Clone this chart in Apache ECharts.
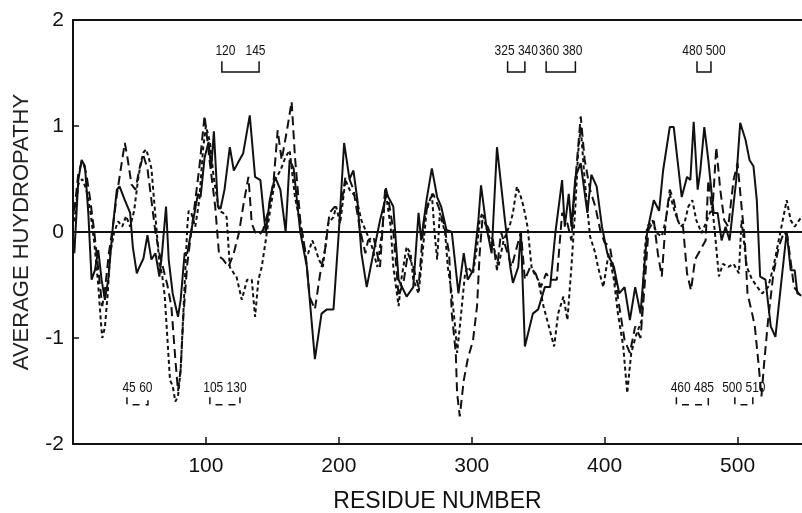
<!DOCTYPE html>
<html>
<head>
<meta charset="utf-8">
<script src="https://cdn.jsdelivr.net/npm/echarts@6/dist/echarts.min.js"></script>
<style>html,body{margin:0;padding:0;background:#fff}#c{width:802px;height:513px}</style>
</head>
<body>
<div id="c"></div>
<script>
// ---- data ----
const xTicks = [100, 200, 300, 400, 500];
const yTicks = [-2, -1, 0, 1, 2];

const solidRes = [1,4,6.5,9,11.5,14,16.5,19,21.5,24,26.5,30,33,35,39,43,45,48,50,53,56,59,62,65,67,70,72,75,79,81,84,86,90,94,96,99,102,104,106,109,111,114,118,121,124,128,133,137,141,145,148,152,156,160,163,166,171,176,182,187,191,196,200,204,208,211,214,217,221,226,231,236,241,245,251,256,260,262,266,270,274,277,281,285,290,294,297,301,305,307,311,315,319,325,329,331,335,337,340,346,350,355,359,363,368,370,373,375,378,382,387,390,394,398,402,407,411,415,419,423,427,432,437,441,444,449,452,458,462,464.5,467,470,472,475,478,482,485,488,491,494,499,502,506,509,512,514.5,517,521,525,528.5,532,537,540,543,545,548];
const solidVal = [-0.2,0.49,0.68,0.62,0.18,-0.45,-0.36,-0.17,-0.45,-0.64,-0.45,0.05,0.4,0.43,0.3,0.18,-0.14,-0.39,-0.33,-0.25,-0.03,-0.26,-0.2,-0.42,-0.2,0.24,-0.26,-0.58,-0.8,-0.64,-0.2,-0.2,0.08,0.36,0.33,0.7,0.85,0.6,0.95,0.24,0.22,0.4,0.8,0.58,0.65,0.74,1.1,0.52,0.49,-0.01,0.3,0.52,0.4,0.0,0.68,0.6,0.0,-0.33,-1.2,-0.77,-0.73,-0.73,0.0,0.84,0.5,0.58,0.3,-0.2,-0.52,-0.2,0.11,0.36,0.24,-0.45,-0.61,-0.52,0.18,-0.08,0.3,0.6,0.33,0.24,0.02,0.0,-0.58,-0.2,-0.45,-0.36,0.11,0.44,0.05,-0.2,0.8,0.11,-0.33,-0.48,-0.33,0.0,-1.08,-0.77,-0.73,-0.52,-0.52,0.0,0.49,0.05,0.36,0.05,0.52,0.65,0.18,0.54,0.43,0.05,-0.2,-0.33,-0.58,-0.52,-0.83,-0.52,-0.77,0.0,0.3,0.2,0.58,0.99,0.99,0.33,0.52,0.49,1.04,0.4,0.58,0.99,0.68,0.18,0.18,-0.08,0.05,-0.08,0.49,1.03,0.87,0.68,0.62,0.3,-0.42,-0.45,-0.89,-0.99,-0.58,0.0,-0.36,-0.36,-0.58,-0.6];

const dashRes = [1,4,7,10,13,16,19,22,24,27,30,33,36,39,41,44,47,50,53,56,59,62,65,68,71,74,77,79,81,83,86,89,92,95,99,103,107,110,113,117,121,125,128,132,134.5,137,140,143,147,151,154,157,161,164.5,167,171,175,178,182,186,190,193,197,201,205,208,211,216,220,222,226,231,235,237,241,245,249,252,256,260,264,268,271,275,279,283,285,288,289,291,294,297,301,304,306,308,312,316,319,322,327,330,334,337,340,344,348,352,356,359,364,368,372,375,378,382,385,389,393,397,400,404,408,411,415,419,423,427,430,433,437,440,443,446,449,452,455,459,462,465,468,472,476,478,481,484,487,490,493,497,500,503,505.5,507.5,511,513,516,518,520,523,527,531,535,537.5,542.5,546,548];
const dashVal = [0.2,0.55,0.68,0.55,0.3,0.0,-0.35,-0.7,-0.55,-0.2,0.05,0.35,0.6,0.84,0.7,0.45,0.4,0.6,0.72,0.6,0.3,0.0,-0.2,-0.35,-0.5,-0.7,-1.2,-1.5,-1.3,-0.8,-0.3,0.0,0.3,0.6,1.1,0.65,0.24,-0.23,-0.26,-0.33,-0.2,0.0,0.24,0.52,0.08,0.0,-0.03,0.02,0.2,0.49,0.96,0.68,0.96,1.23,0.71,0.11,-0.2,-0.61,-0.73,-0.39,-0.14,0.18,0.24,0.18,0.52,0.5,0.4,0.02,-0.2,-0.08,-0.04,-0.33,0.43,0.33,0.02,-0.61,-0.45,-0.2,-0.33,-0.52,0.11,0.3,0.36,0.24,0.08,-0.2,-0.77,-1.14,-1.52,-1.74,-1.4,-1.2,-1.02,-0.7,-0.2,0.11,0.05,-0.08,-0.36,0.0,-0.2,-0.33,-0.14,0.0,-0.45,-0.33,-0.39,-0.52,-0.39,-0.45,-0.45,0.18,0.08,-0.08,0.49,1.09,0.68,0.4,0.24,0.0,-0.1,-0.14,-0.45,-0.7,-1.02,-1.14,-0.89,-1.0,-0.52,0.02,0.11,-0.2,-0.42,0.11,0.4,0.3,0.11,0.05,-0.39,-0.55,-0.26,-0.17,-0.08,0.49,0.18,0.8,0.4,0.11,0.05,0.49,0.65,0.24,-0.08,-0.58,-0.77,-0.89,-1.27,-1.55,-1.24,-0.83,-0.39,-0.14,0.0,-0.04,-0.52,-0.58,-0.6];

const dotRes = [1,4,7,10,13,16,19,21,22,24,26,28,31,34,37,40,43,46,49,51,53,55,57,59,61,63,65,67,69,71,73,75,77,79,81,84,86,87,89,92,95,98,100,103,106,110,113,115.6,118,121,123,127,131,134.5,137,139.5,142,145,148,152,156,160,163,167,171,175,177,180,182,185,188,192,196,198,201,205,208,213,217,221,225,229,233,235,239,241,245,247,251,254,256,260,262,266,270,272,274,276,280,282,285,288,289,291,295,297,301,304,306,308,312,318,320,324,329,331,334,337,339,342,345,347,350,354,358,362,365,369,372,375,378,380,382,385,389,393,395,399,403,407,410,414,417,420,424,428,430,432,436,439,443,446,449,453,457,460,463,466,469,473,477,481,483,486,489,493,497,501,503,507,511,515,518.5,523,527,530,534,537,540,543,548];
const dotVal = [0.1,0.45,0.5,0.4,0.2,-0.1,-0.5,-0.85,-1.0,-0.9,-0.6,-0.2,0.0,0.1,0.05,0.15,0.05,0.2,0.5,0.65,0.75,0.78,0.7,0.6,0.3,0.0,-0.3,-0.4,-0.6,-1.0,-1.4,-1.45,-1.6,-1.55,-1.3,-0.5,0.05,0.2,0.18,0.05,0.3,0.8,1.0,0.85,0.5,0.2,0.18,0.14,-0.33,-0.39,-0.42,-0.64,-0.45,-0.45,-0.8,-0.45,-0.33,-0.08,0.18,0.49,0.58,0.71,0.77,0.33,0.08,-0.2,-0.2,-0.08,-0.14,-0.26,-0.33,0.08,0.14,0.24,0.08,0.49,0.4,0.33,0.11,-0.01,-0.14,-0.33,0.05,0.4,0.05,-0.33,-0.7,-0.45,-0.14,-0.2,-0.45,-0.58,-0.33,0.2,0.36,0.0,-0.26,0.18,-0.01,-0.33,-0.58,-0.96,-1.14,-0.9,-0.39,-0.33,-0.39,-0.14,0.11,0.18,-0.01,-0.2,-0.33,-0.08,0.08,0.18,0.43,0.33,0.24,0.05,-0.33,-0.39,-0.45,-0.7,-0.89,-1.08,-0.77,-0.61,-0.83,-0.33,0.24,0.74,0.99,0.49,-0.04,-0.2,-0.33,-0.52,-0.2,-0.45,-0.77,-1.08,-1.52,-1.14,-0.96,-0.83,-0.2,0.05,0.11,-0.01,-0.04,0.11,0.36,0.18,0.05,0.08,0.24,0.3,0.11,-0.01,0.11,0.24,-0.01,-0.42,-0.3,-0.33,-0.3,-0.39,0.11,-0.33,-0.45,-0.52,-0.58,-0.52,-0.33,-0.14,0.11,0.3,0.11,0.05,0.14];

// segment annotations (residue ranges)
const topBracketStart = [112, 327, 356, 469.5];
const topBracketEnd   = [140, 340, 378, 480];
const topBracketLabel = ['120   145', '325 340', '360 380', '480 500'];
const botBracketStart = [40.6, 103, 454, 498];
const botBracketEnd   = [56.4, 125.6, 478, 511.5];
const botBracketLabel = ['45 60', '105 130', '460 485', '500 510'];

// ---- chart ----
const X_MAX = 548.5;
const FONT = '"Liberation Sans", Arial, sans-serif';
const pair = (xs, ys) => xs.map((x, i) => [x, ys[i]]);

function bracketSeries(starts, ends, labels, armTop, base, labelY, dashed) {
  return {
    type: 'custom',
    silent: true,
    z: 5,
    data: starts.map((s, i) => [s, ends[i]]),
    renderItem: function (params, api) {
      const s = api.value(0), e = api.value(1);
      const lab = labels[params.dataIndex];
      const a = api.coord([s, armTop]), b = api.coord([s, base]);
      const c = api.coord([e, base]), d = api.coord([e, armTop]);
      const t = api.coord([(s + e) / 2, labelY]);
      return {
        type: 'group',
        children: [
          { type: 'polyline', shape: { points: [a, b, c, d] },
            style: { stroke: '#111', lineWidth: 1.5, fill: null, lineDash: dashed ? [7, 6] : null } },
          { type: 'text', x: t[0], y: t[1], scaleX: 0.8,
            style: { text: lab, fill: '#111', font: '15px ' + FONT, align: 'center', verticalAlign: 'middle' } }
        ]
      };
    }
  };
}

const chart = echarts.init(document.getElementById('c'), null, { renderer: 'canvas' });
chart.setOption({
  animation: false,
  backgroundColor: '#fff',
  grid: { left: 73, top: 20, right: 0, bottom: 69, containLabel: false, outerBoundsMode: 'none' },
  xAxis: [{
    type: 'value', min: 0, max: X_MAX, interval: 100,
    name: 'RESIDUE NUMBER', nameLocation: 'middle', nameGap: 46,
    nameTextStyle: { fontFamily: FONT, fontSize: 23, color: '#111' },
    axisLine: { show: true, onZero: false, lineStyle: { color: '#111', width: 2 } },
    axisTick: { show: true, inside: true, length: 7, lineStyle: { color: '#111', width: 1.5 } },
    axisLabel: { fontFamily: FONT, fontSize: 21, color: '#111', margin: 12, showMinLabel: false, showMaxLabel: false,
      formatter: v => (xTicks.indexOf(v) >= 0 ? String(v) : '') },
    splitLine: { show: false }
  }, {
    type: 'value', min: 0, max: X_MAX, position: 'top',
    axisLine: { show: true, onZero: false, lineStyle: { color: '#111', width: 2 } },
    axisTick: { show: false }, axisLabel: { show: false }, splitLine: { show: false }
  }],
  yAxis: {
    type: 'value', min: -2, max: 2, interval: 1,
    name: 'AVERAGE HUYDROPATHY', nameLocation: 'middle', nameGap: 40, nameRotate: 90,
    nameTextStyle: { fontFamily: FONT, fontSize: 22, color: '#222' },
    axisLine: { show: true, onZero: false, lineStyle: { color: '#111', width: 2 } },
    axisTick: { show: true, inside: true, length: 6, lineStyle: { color: '#111', width: 1.5 } },
    axisLabel: { fontFamily: FONT, fontSize: 21, color: '#111', margin: 9,
      formatter: v => (yTicks.indexOf(v) >= 0 ? String(v) : '') },
    splitLine: { show: false }
  },
  series: [
    { type: 'line', name: 'solid', data: pair(solidRes, solidVal), showSymbol: false, symbol: 'none',
      lineStyle: { color: '#111', width: 2 }, z: 3,
      markLine: { silent: true, symbol: 'none', label: { show: false },
        lineStyle: { color: '#111', width: 2, type: 'solid' }, data: [{ yAxis: 0 }] } },
    { type: 'line', name: 'dashed', data: pair(dashRes, dashVal), showSymbol: false, symbol: 'none',
      lineStyle: { color: '#111', width: 2, type: [9, 5] }, z: 3 },
    { type: 'line', name: 'dotted', data: pair(dotRes, dotVal), showSymbol: false, symbol: 'none',
      lineStyle: { color: '#111', width: 2, type: [4, 3] }, z: 3 },
    bracketSeries(topBracketStart, topBracketEnd, topBracketLabel, 1.61, 1.51, 1.71, false),
    bracketSeries(botBracketStart, botBracketEnd, botBracketLabel, -1.56, -1.63, -1.47, true)
  ]
});
</script>
</body>
</html>
